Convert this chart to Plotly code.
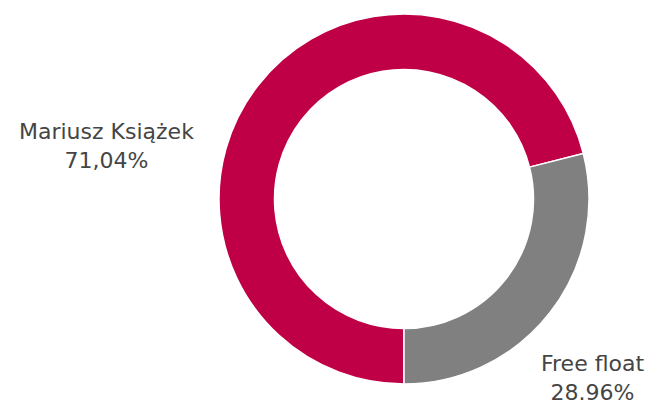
import plotly.graph_objects as go

labels = ["Mariusz Książek", "Free float"]
values = [71.04, 28.96]
value_texts = ["71,04%", "28.96%"]
colors = ["#C00046", "#808080"]

W, H = 659, 405
# page has an 8px body margin; positions below are in figure pixels
cx, cy, r = 396, 191, 185

fig = go.Figure(go.Pie(
    labels=labels,
    values=values,
    hole=0.70,
    sort=False,
    direction="clockwise",
    rotation=180,
    marker=dict(colors=colors, line=dict(color="white", width=1.5)),
    textinfo="none",
    hoverinfo="label+percent",
    domain=dict(x=[(cx - r) / W, (cx + r) / W], y=[(H - cy - r) / H, (H - cy + r) / H]),
    showlegend=False,
))

ann_pos = [(98, 138), (584, 370)]
for lab, vt, (ax, ay) in zip(labels, value_texts, ann_pos):
    fig.add_annotation(
        x=ax / W, y=1 - ay / H, xref="paper", yref="paper",
        text=f"{lab}<br>{vt}", showarrow=False, align="center",
        xanchor="center", yanchor="middle",
        font=dict(family="DejaVu Sans", size=22, color="#454545"),
    )

fig.update_layout(
    width=W, height=H,
    margin=dict(l=0, r=0, t=0, b=0),
    paper_bgcolor="white", plot_bgcolor="white",
)

fig.write_html("out.html")
